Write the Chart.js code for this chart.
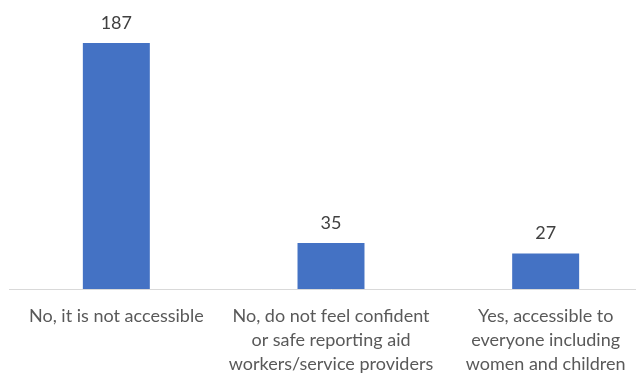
<!DOCTYPE html>
<html>
<head>
<meta charset="utf-8">
<script src="https://cdn.jsdelivr.net/npm/chart.js@4"></script>
<style>
  html, body { margin: 0; padding: 0; background: #fff; overflow: hidden; }
  #wrap { position: absolute; left: 0; top: 0; width: 653px; height: 373px; }
</style>
</head>
<body>
<div id="wrap"><canvas id="barChart"></canvas></div>
<script>
// categories, wrapped the way they appear under each bar
const categories = [
    ['No, it is not accessible'],
    ['No, do not feel confident', 'or safe reporting aid', 'workers/service providers'],
    ['Yes, accessible to', 'everyone including', 'women and children']
];
const counts = [187, 35, 27];

const barColor = '#4472C4';
const fontFamily = 'Lato, "Open Sans", sans-serif';

// value printed above each bar
const valueLabels = {
    id: 'valueLabels',
    afterDatasetsDraw(chart) {
        const ctx = chart.ctx;
        const meta = chart.getDatasetMeta(0);
        ctx.save();
        ctx.font = '18px ' + fontFamily;
        ctx.fillStyle = '#404040';
        ctx.textAlign = 'center';
        ctx.textBaseline = 'alphabetic';
        meta.data.forEach((bar, i) => {
            ctx.fillText(chart.data.datasets[0].data[i], bar.x, bar.y - 14);
        });
        ctx.restore();
    }
};

function initChart() {
    const canvas = document.getElementById('barChart');
    new Chart(canvas.getContext('2d'), {
        type: 'bar',
        data: {
            labels: categories,
            datasets: [{
                data: counts,
                backgroundColor: barColor,
                barPercentage: 1,
                categoryPercentage: 0.312
            }]
        },
        options: {
            responsive: true,
            maintainAspectRatio: false,
            animation: false,
            layout: { padding: { left: 9, right: 0, top: 26, bottom: 0 } },
            plugins: {
                legend: { display: false },
                tooltip: { enabled: false }
            },
            scales: {
                x: {
                    grid: { display: false, drawTicks: false },
                    border: { display: true, color: '#d9d9d9', width: 1 },
                    ticks: {
                        color: '#595959',
                        padding: 15,
                        maxRotation: 0,
                        autoSkip: false,
                        font: { family: fontFamily, size: 18, lineHeight: '24px' }
                    },
                    afterFit(scale) { scale.height = 84; }
                },
                y: {
                    display: false,
                    min: 0,
                    max: 200
                }
            }
        },
        plugins: [valueLabels]
    });
}

document.addEventListener('DOMContentLoaded', () => {
    initChart();
});
</script>
</body>
</html>
